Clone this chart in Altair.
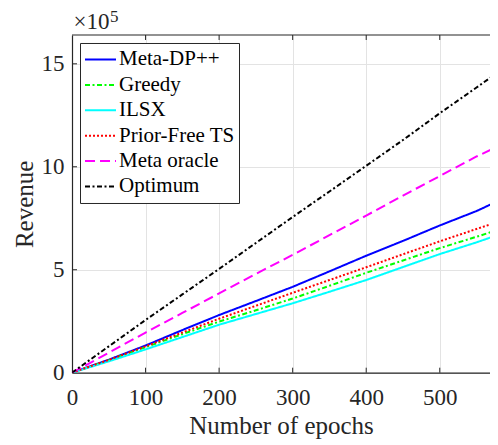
import altair as alt
import pandas as pd

# ---- data (revenue in units of 1e5) ----
epochs = [0, 50, 100, 150, 200, 250, 300, 350, 400, 450, 500, 550, 580]
meta_dp = [0, 0.63, 1.32, 2.07, 2.8, 3.48, 4.17, 4.92, 5.68, 6.4, 7.15, 7.85, 8.35]
greedy = [0, 0.6, 1.24, 1.87, 2.48, 3.03, 3.6, 4.22, 4.85, 5.45, 6.05, 6.6, 6.95]
ilsx = [0, 0.55, 1.13, 1.73, 2.33, 2.85, 3.37, 3.93, 4.5, 5.13, 5.76, 6.33, 6.7]
prior_free = [0, 0.62, 1.28, 1.95, 2.62, 3.25, 3.88, 4.5, 5.12, 5.75, 6.38, 6.98, 7.33]
meta_oracle = [0, 0.97, 1.95, 2.9, 3.85, 4.8, 5.72, 6.68, 7.63, 8.6, 9.55, 10.5, 11.0]
optimum = [0, 1.28, 2.56, 3.8, 5.04, 6.3, 7.56, 8.8, 10.05, 11.3, 12.6, 13.85, 14.61]

series_names = ["Meta-DP++", "Greedy", "ILSX", "Prior-Free TS", "Meta oracle", "Optimum"]
series_values = [meta_dp, greedy, ilsx, prior_free, meta_oracle, optimum]
series_colors = ["#0000FF", "#00FF00", "#00FFFF", "#FF0000", "#FF00FF", "#000000"]
series_dashes = [[1, 0], [5, 2.5, 2, 2.5], [1, 0], [2, 2], [10, 5], [5, 2.5, 2, 2.5]]

x_ticks = [0, 100, 200, 300, 400, 500]
y_ticks = [0, 5, 10, 15]

W, H = 418, 337.7
FONT = "Liberation Serif"
AX = "#262626"

rows = []
for name, vals in zip(series_names, series_values):
    for i, (e, v) in enumerate(zip(epochs, vals)):
        rows.append({"epoch": e, "revenue": v, "series": name, "order": i})
df = pd.DataFrame(rows)

xscale = alt.Scale(domain=[0, 568.3], nice=False, zero=False)
yscale = alt.Scale(domain=[0, 16.4], nice=False, zero=False)

leg = alt.Legend(
    title=None, orient="none", legendX=8, legendY=8,
    symbolType="stroke", symbolSize=961, symbolStrokeWidth=2,
    labelFont=FONT, labelFontSize=21, labelColor="#000000",
    strokeColor=AX, fillColor="#FFFFFF", padding=4,
    clipHeight=25, rowPadding=0.4, labelOffset=2, labelLimit=400,
)

xaxis = alt.Axis(values=x_ticks, title="Number of epochs", grid=True, labelFlush=False,
                 labelFont=FONT, labelFontSize=23, titleFont=FONT, titleFontSize=25,
                 labelBaseline="alphabetic", labelPadding=31.5,
                 titleBaseline="alphabetic", titleY=60.6, titleX=W / 2, titleAlign="center")
yaxis = alt.Axis(values=y_ticks, title="Revenue", grid=True, labelFlush=False,
                 labelFont=FONT, labelFontSize=23, titleFont=FONT, titleFontSize=25,
                 labelPadding=8, titleBaseline="alphabetic", titleAngle=270,
                 titleX=-40, titleY=H / 2, titleAlign="center")

lines = alt.Chart(df).mark_line(strokeWidth=2, clip=True).encode(
    x=alt.X("epoch:Q", scale=xscale, axis=xaxis),
    y=alt.Y("revenue:Q", scale=yscale, axis=yaxis),
    color=alt.Color("series:N", scale=alt.Scale(domain=series_names, range=series_colors),
                    sort=series_names, legend=leg),
    strokeDash=alt.StrokeDash("series:N", scale=alt.Scale(domain=series_names, range=series_dashes),
                              sort=series_names, legend=leg),
    order="order:Q",
)

xt = pd.DataFrame({"epoch": x_ticks[1:]})
yt = pd.DataFrame({"revenue": y_ticks[1:]})
one = pd.DataFrame({"k": [0]})

xtick_bottom = alt.Chart(xt).mark_rule(color=AX, strokeWidth=1).encode(
    x=alt.X("epoch:Q", scale=xscale), y=alt.value(H), y2=alt.value(H - 5))
xtick_top = alt.Chart(xt).mark_rule(color=AX, strokeWidth=1).encode(
    x=alt.X("epoch:Q", scale=xscale), y=alt.value(0), y2=alt.value(5))
ytick_left = alt.Chart(yt).mark_rule(color=AX, strokeWidth=1).encode(
    y=alt.Y("revenue:Q", scale=yscale), x=alt.value(0), x2=alt.value(5))

top_border = alt.Chart(one).mark_rule(color=AX, strokeWidth=1.2).encode(
    x=alt.value(0), x2=alt.value(W), y=alt.value(0))

exp_base = alt.Chart(one).mark_text(font=FONT, fontSize=23, align="left",
                                    baseline="alphabetic", color=AX).encode(
    x=alt.value(1.5), y=alt.value(-6), text=alt.value("×10"))
exp_sup = alt.Chart(one).mark_text(font=FONT, fontSize=17, align="left",
                                   baseline="alphabetic", color=AX).encode(
    x=alt.value(38), y=alt.value(-12.5), text=alt.value("5"))

chart = alt.layer(
    lines, xtick_bottom, xtick_top, ytick_left, top_border, exp_base, exp_sup
).properties(
    width=W, height=H,
    autosize=alt.AutoSizeParams(type="none"),
    padding={"left": 64, "top": 27, "right": 0, "bottom": 70},
).configure_view(stroke=None).configure_axis(
    domainColor=AX, domainWidth=1.2, ticks=False, tickSize=0,
    gridColor="#E3E3E3", gridWidth=1,
    labelFont=FONT, labelFontSize=23, labelColor=AX,
    titleFont=FONT, titleFontSize=25, titleFontWeight="normal", titleColor=AX,
)

chart.save("out.html", embed_options={"renderer": "svg", "actions": False})
